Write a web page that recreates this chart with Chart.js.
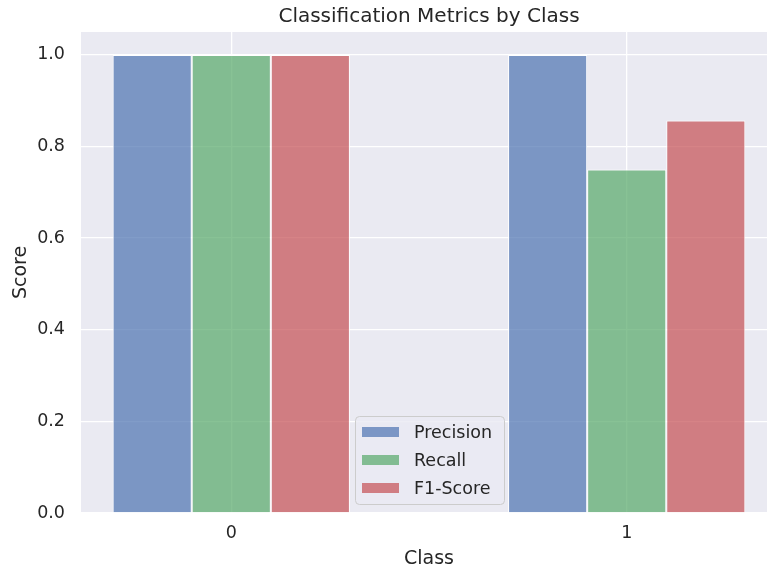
<!DOCTYPE html>
<html>
<head>
<meta charset="utf-8">
<script src="https://cdn.jsdelivr.net/npm/chart.js@4.4.0/dist/chart.umd.min.js"></script>
<style>
    html, body { margin: 0; padding: 0; background: #ffffff; overflow: hidden; }
    #wrap { width: 767px; height: 572px; overflow: hidden; }
</style>
</head>
<body>
<div id="wrap"><canvas id="chart" width="790" height="572"></canvas></div>
<script>
// class positions on the x axis and their labels
const classes = [0, 1];
const classLabels = ['0', '1'];

// metric scores per class
const metricNames = ['Precision', 'Recall', 'F1-Score'];
const precision = [1.0, 1.0];
const recall = [1.0, 0.75];
const f1Score = [1.0, 0.857];

const yTicks = [0, 0.2, 0.4, 0.6, 0.8, 1.0];

const metricColors = [
    'rgba(76, 114, 176, 0.7)',
    'rgba(85, 168, 104, 0.7)',
    'rgba(196, 78, 82, 0.7)'
];

const textColor = '#262626';
const family = 'DejaVu Sans';

function ready( fn ) {
    if ( document.readyState !== 'loading' ){
        fn();
    } else {
        document.addEventListener( 'DOMContentLoaded', fn );
    }
}

ready( function(){
    const series = [precision, recall, f1Score];

    const data = {
        datasets: series.map( function( values, i ){
            return {
                label: metricNames[i],
                data: classes.map( function( c, j ){ return { x: c, y: values[j] }; } ),
                backgroundColor: metricColors[i],
                borderColor: '#ffffff',
                borderWidth: 1,
                borderSkipped: 'start',
                categoryPercentage: 0.6,
                barPercentage: 1.0
            };
        } )
    };

    // axes face colour behind the grid
    const plotBackground = {
        id: 'plotBackground',
        beforeDraw: function( chart ){
            const a = chart.chartArea;
            const ctx = chart.ctx;
            ctx.save();
            ctx.fillStyle = '#eaeaf2';
            ctx.fillRect( a.left, a.top, a.right - a.left, a.bottom - a.top );
            ctx.restore();
        }
    };

    // title centred over the axes and the boxed legend at lower centre
    const overlay = {
        id: 'overlay',
        afterDraw: function( chart ){
            const a = chart.chartArea;
            const ctx = chart.ctx;
            ctx.save();
            ctx.fillStyle = textColor;
            ctx.font = `20px "${family}"`;
            ctx.textAlign = 'center';
            ctx.textBaseline = 'middle';
            ctx.fillText( 'Classification Metrics by Class', ( a.left + a.right ) / 2, 17 );

            const bx = 355, by = 416, bw = 149, bh = 88, r = 4;
            ctx.beginPath();
            ctx.roundRect( bx + 0.5, by + 0.5, bw, bh, r );
            ctx.fillStyle = 'rgba(234, 234, 242, 0.8)';
            ctx.fill();
            ctx.strokeStyle = '#cccccc';
            ctx.lineWidth = 1;
            ctx.stroke();

            ctx.font = `17.5px "${family}"`;
            ctx.textAlign = 'left';
            chart.data.datasets.forEach( function( ds, i ){
                const cy = 432 + i * 28;
                ctx.fillStyle = ds.backgroundColor;
                ctx.fillRect( 362, cy - 5, 37, 10 );
                ctx.fillStyle = textColor;
                ctx.fillText( ds.label, 414, cy + 1 );
            } );
            ctx.restore();
        }
    };

    const config = {
        type: 'bar',
        data: data,
        options: {
            responsive: false,
            animation: false,
            layout: {
                padding: { top: 32, right: 13, left: 0, bottom: 0 }
            },
            scales: {
                x: {
                    type: 'linear',
                    min: -0.38,
                    max: 1.38,
                    offset: false,
                    afterBuildTicks: function( scale ){
                        scale.ticks = classes.map( function( v ){ return { value: v }; } );
                    },
                    afterFit: function( scale ){ scale.height = 59; },
                    ticks: {
                        color: textColor,
                        font: { family: family, size: 17.5 },
                        padding: 10,
                        callback: function( value ){ return classLabels[classes.indexOf( value )]; }
                    },
                    grid: { color: '#ffffff', lineWidth: 1.3, drawTicks: false, offset: false },
                    border: { display: false },
                    title: {
                        display: true,
                        text: 'Class',
                        color: textColor,
                        font: { family: family, size: 19 },
                        padding: { top: 0, bottom: 2 }
                    }
                },
                y: {
                    min: 0,
                    max: 1.05,
                    afterBuildTicks: function( scale ){
                        scale.ticks = yTicks.map( function( v ){ return { value: v }; } );
                    },
                    afterFit: function( scale ){ scale.width = 81; },
                    ticks: {
                        color: textColor,
                        font: { family: family, size: 17.5 },
                        padding: 16,
                        callback: function( value ){ return value.toFixed( 1 ); }
                    },
                    grid: { color: '#ffffff', lineWidth: 1.3, drawTicks: false },
                    border: { display: false },
                    title: {
                        display: true,
                        text: 'Score',
                        color: textColor,
                        font: { family: family, size: 19 },
                        padding: { top: 10, bottom: 0 }
                    }
                }
            },
            plugins: {
                legend: { display: false },
                title: { display: false },
                tooltip: { enabled: false }
            }
        },
        plugins: [plotBackground, overlay]
    };

    new Chart( document.getElementById( 'chart' ), config );
} );
</script>
</body>
</html>
